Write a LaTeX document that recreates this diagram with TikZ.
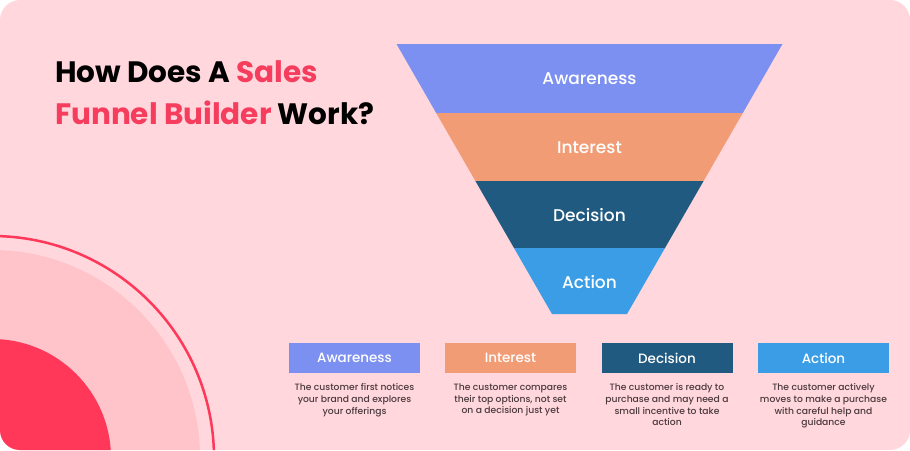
\documentclass[tikz,border=0pt]{standalone}
\usepackage{fontspec}
\setmainfont{Poppins}
\newfontfamily\midweight{Poppins}[UprightFont=* Medium]

\begin{document}
\begin{tikzpicture}[x=1pt,y=-1pt,
    stagelabel/.style={text=white,font=\midweight\fontsize{17}{20}\selectfont},
    tab/.style={minimum width=131pt,minimum height=30pt,inner sep=0pt,text=white,font=\midweight\fontsize{13.5}{16}\selectfont},
    blurb/.style={align=center,anchor=north,inner sep=0pt,text=blurbgray,font=\midweight\fontsize{9.2}{11.7}\selectfont}]
	\definecolor{cardpink}{HTML}{FFD7DC}
	\definecolor{softpink}{HTML}{FFC3CA}
	\definecolor{hotred}{HTML}{FF385A}
	\definecolor{titlered}{HTML}{F63D5E}
	\definecolor{awareblue}{HTML}{7C90F2}
	\definecolor{interestorange}{HTML}{F29C76}
	\definecolor{decisionblue}{HTML}{215A80}
	\definecolor{actionblue}{HTML}{3A9DE6}
	\definecolor{blurbgray}{HTML}{4B3A3F}
	\useasboundingbox (0,0) rectangle (910,450);
	\fill[white] (0,0) rectangle (910,450);
	% card and corner rings
	\begin{scope}
		\clip[rounded corners=20pt] (0,0) rectangle (910,450);
		\fill[cardpink] (0,0) rectangle (910,450);
		\fill[softpink] (-8,458) circle (208);
		\fill[hotred] (-8,458) circle (119);
		\draw[hotred,line width=2.5pt] (-8,458) circle (222);
	\end{scope}
	% title
	\node[anchor=base west,inner sep=0pt,font=\fontsize{29.5}{34}\bfseries] (title1) at (55,82) {How Does A \textcolor{titlered}{Sales}};
	\node[anchor=base west,inner sep=0pt,font=\fontsize{29.5}{34}\bfseries] (title2) at (55,124) {\textcolor{titlered}{Funnel Builder} Work?};
	% funnel
	\fill[awareblue] (396.5,44) -- (782.5,44) -- (742.8,113) -- (436.2,113) -- cycle;
	\fill[interestorange] (436.2,113) -- (742.8,113) -- (703.6,181) -- (475.4,181) -- cycle;
	\fill[decisionblue] (475.4,181) -- (703.6,181) -- (665,248) -- (514,248) -- cycle;
	\fill[actionblue] (514,248) -- (665,248) -- (627,314) -- (552,314) -- cycle;
	\node[stagelabel] (fawareness) at (589.5,79) {Awareness};
	\node[stagelabel] (finterest) at (589.5,148) {Interest};
	\node[stagelabel] (fdecision) at (589.5,215) {Decision};
	\node[stagelabel] (faction) at (589.5,282) {Action};
	% legend tabs
	\node[tab,fill=awareblue] (tawareness) at (354.5,358) {Awareness};
	\node[tab,fill=interestorange] (tinterest) at (510.5,358) {Interest};
	\node[tab,fill=decisionblue] (tdecision) at (667,358) {Decision};
	\node[tab,fill=actionblue] (taction) at (823.5,358) {Action};
	\node[blurb] (dawareness) at (354.5,383.5) {The customer first notices\\your brand and explores\\your offerings};
	\node[blurb] (dinterest) at (510.5,383.5) {The customer compares\\their top options, not set\\on a decision just yet};
	\node[blurb] (ddecision) at (667,383.5) {The customer is ready to\\purchase and may need a\\small incentive to take\\action};
	\node[blurb] (daction) at (823.5,383.5) {The customer actively\\moves to make a purchase\\with careful help and\\guidance};
\end{tikzpicture}
\end{document}
